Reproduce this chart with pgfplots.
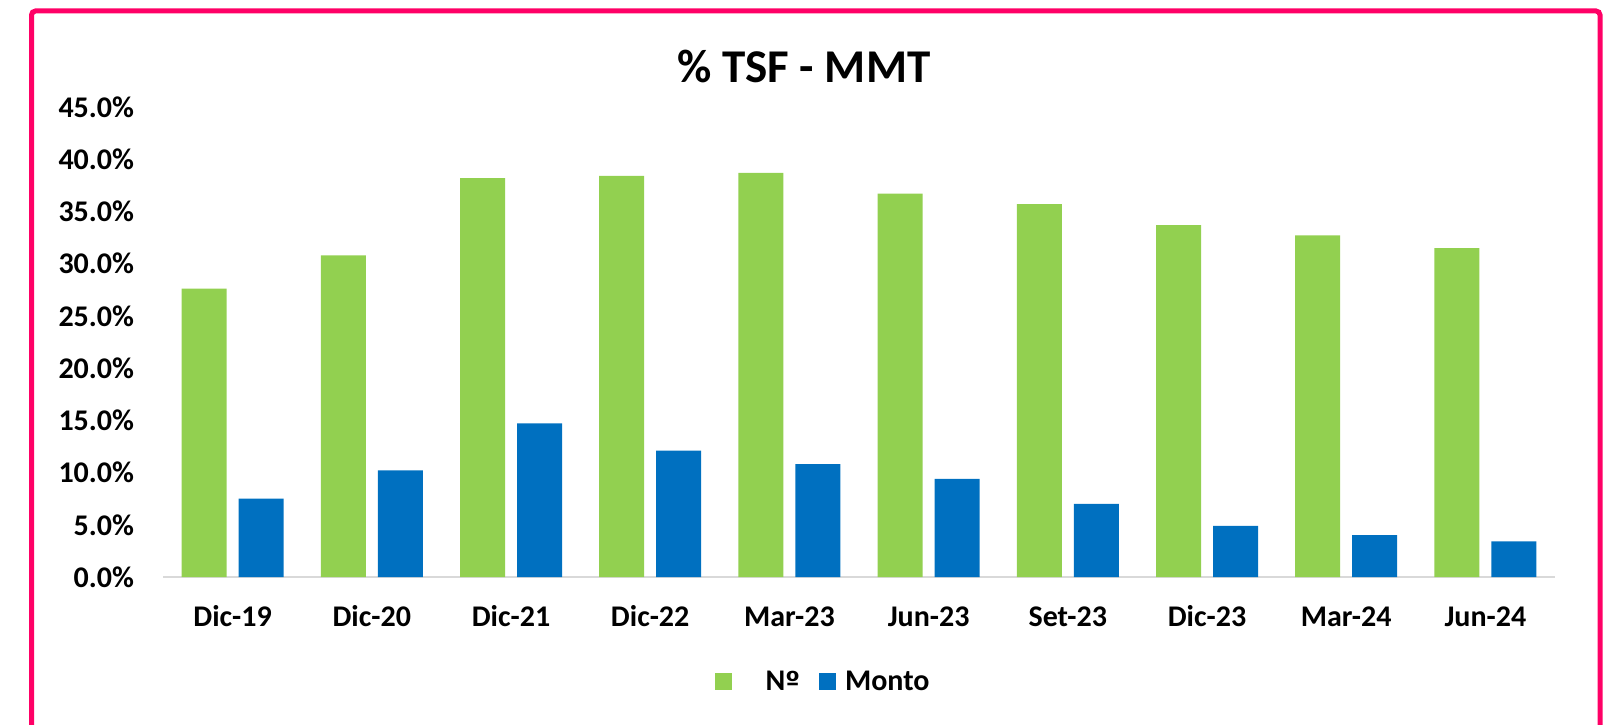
\documentclass[border=0pt]{standalone}
\usepackage{fontspec}
\setmainfont{Carlito}
\newfontfamily\dvfont{DejaVu Sans}
\usepackage{pgfplots}
\pgfplotsset{compat=1.18}
\definecolor{gbar}{HTML}{92D050}
\definecolor{bbar}{HTML}{0070C0}
\definecolor{framec}{HTML}{FF0066}
\definecolor{axgray}{HTML}{D9D9D9}
\pgfplotsset{sqleg/.style={legend image code/.code={\fill[##1] (0pt,-4.25pt) rectangle (8.5pt,4.25pt);}}}
\begin{document}
\begin{tikzpicture}
\path[use as bounding box] (0,0) rectangle (804.5pt,362pt);
\draw[framec, line width=2.5pt, rounded corners=2pt] (15.75pt,-5pt) -- (15.75pt,356.5pt) -- (800pt,356.5pt) -- (800pt,-5pt);
\node[font=\fontsize{23.5}{28}\selectfont\bfseries, inner sep=0pt] at (402pt,328.6pt) {\% TSF - MMT};
\begin{axis}[
  at={(81.5pt,73.5pt)}, anchor=south west,
  scale only axis, width=696pt, height=235pt,
  xmin=-0.5, xmax=9.5, ymin=0, ymax=45,
  ybar=6pt, bar width=22.5pt,
  axis x line*=bottom, axis y line*=left,
  x axis line style={-, draw=axgray, line width=1pt},
  y axis line style={draw=none},
  major tick length=0pt, tick style={draw=none},
  xtick={0,...,9},
  xticklabels={Dic-19,Dic-20,Dic-21,Dic-22,Mar-23,Jun-23,Set-23,Dic-23,Mar-24,Jun-24},
  ytick={0,5,...,45},
  yticklabels={0.0\%,5.0\%,10.0\%,15.0\%,20.0\%,25.0\%,30.0\%,35.0\%,40.0\%,45.0\%},
  ticklabel style={font=\fontsize{15}{18}\selectfont\bfseries},
  yticklabel style={anchor=east, inner sep=0pt, xshift=-14.3pt},
  xticklabel style={anchor=base, inner sep=0pt, yshift=-24.8pt},
  legend columns=-1,
  legend style={at={(0.3963,-0.2213)}, anchor=west, draw=none, fill=none,
    inner sep=0pt, outer sep=0pt, cells={anchor=west},
    nodes={inner sep=0pt, text depth=0pt, font=\fontsize{15}{18}\selectfont\bfseries},
    /tikz/every odd column/.append style={column sep=4.5pt},
    /tikz/every even column/.append style={column sep=9.5pt}},
]
\addplot[fill=gbar, draw=none, sqleg]
  coordinates {(0,27.6) (1,30.8) (2,38.2) (3,38.4) (4,38.7) (5,36.7) (6,35.7) (7,33.7) (8,32.7) (9,31.5)};
\addplot[fill=bbar, draw=none, sqleg]
  coordinates {(0,7.5) (1,10.2) (2,14.7) (3,12.1) (4,10.8) (5,9.4) (6,7.0) (7,4.9) (8,4.0) (9,3.4)};
\legend{\hspace{12.5pt}N{\dvfont\bfseries\fontsize{13}{15}\selectfont º}, Monto}
\end{axis}
\end{tikzpicture}
\end{document}
